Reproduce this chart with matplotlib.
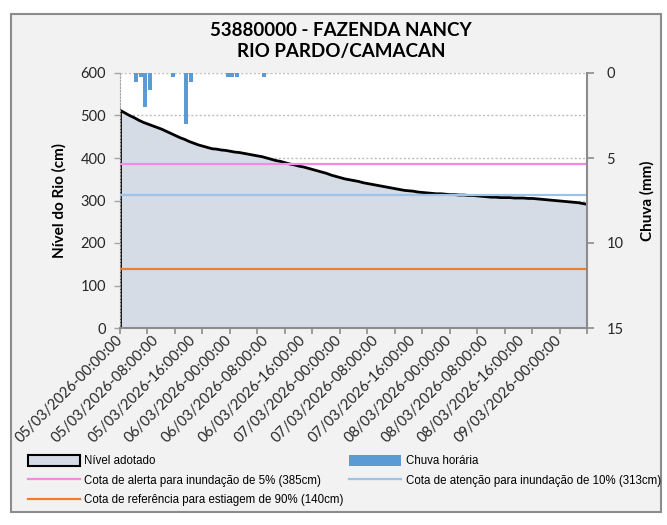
import matplotlib
matplotlib.use("Agg")
import matplotlib.pyplot as plt
from matplotlib.patches import Rectangle, Patch
from matplotlib.lines import Line2D
from matplotlib.font_manager import FontProperties

# ---------------- dados ----------------
# horas desde 05/03/2026 00:00
horas = list(range(103))
nivel = [513, 507, 501, 496, 490, 485, 481, 477, 473, 469,
         464, 459, 454, 449, 445, 440, 436, 432, 429, 426,
         423, 422, 420, 419, 417, 415, 414, 412, 410, 408,
         406, 404, 401, 398, 395, 393, 390, 387, 385, 382,
         380, 377, 374, 371, 368, 365, 361, 358, 355, 352,
         350, 348, 346, 343, 341, 339, 337, 335, 333, 331,
         329, 327, 325, 324, 323, 321, 320, 319, 318, 317,
         317, 316, 315, 315, 314, 314, 313, 313, 312, 311,
         310, 309, 309, 308, 308, 308, 307, 307, 307, 306,
         306, 305, 304, 303, 302, 301, 300, 299, 298, 297,
         296, 294, 292]

chuva_horas = [3, 4, 5, 6, 11, 14, 15, 23, 24, 25, 31]
chuva_mm = [0.5, 0.25, 2.0, 1.0, 0.25, 3.0, 0.5, 0.25, 0.25, 0.25, 0.25]

cota_alerta = 385
cota_atencao = 313
cota_estiagem = 140

tick_horas = [0, 8, 16, 24, 32, 40, 48, 56, 64, 72, 80, 88, 96]
tick_labels = ["05/03/2026-00:00:00", "05/03/2026-08:00:00", "05/03/2026-16:00:00",
               "06/03/2026-00:00:00", "06/03/2026-08:00:00", "06/03/2026-16:00:00",
               "07/03/2026-00:00:00", "07/03/2026-08:00:00", "07/03/2026-16:00:00",
               "08/03/2026-00:00:00", "08/03/2026-08:00:00", "08/03/2026-16:00:00",
               "09/03/2026-00:00:00"]

titulo = "53880000 - FAZENDA NANCY\nRIO PARDO/CAMACAN"

# ---------------- figura ----------------
plt.rcParams['font.family'] = ['Lato', 'DejaVu Sans']
W, H = 667, 525
fig = plt.figure(figsize=(W / 100, H / 100), dpi=100, facecolor='white')

# moldura do grafico
fig.patches.append(Rectangle((11 / W, 1 - 512 / H), 650 / W, 498 / H, transform=fig.transFigure,
                             facecolor='#f2f2f2', edgecolor='#8c8c8c', lw=1.5, zorder=-10))

ax = fig.add_axes([120 / W, 1 - 328 / H, 467 / W, 255 / H])
ax.set_facecolor('white')

ax.fill_between(horas, nivel, 0, facecolor='#d6dce5', edgecolor='black', lw=2, zorder=2)
ax.axhline(cota_alerta, color='#f08ce6', lw=1.6, zorder=3)
ax.axhline(cota_atencao, color='#9dc3e6', lw=1.6, zorder=3)
ax.axhline(cota_estiagem, color='#ed7d31', lw=1.6, zorder=3)

ax.set_xlim(0, 102)
ax.set_ylim(0, 600)
ax.set_yticks(range(0, 601, 100))
ax.yaxis.grid(True, color='#bfbfbf', ls=(0, (1.5, 1.5)), lw=1)
ax.set_axisbelow(True)

# marcas a cada 6 h, rotulos a cada 8 h
ax.xaxis.remove_overlapping_locs = False
ax.set_xticks(range(0, 103, 6))
ax.set_xticklabels([])
ax.set_xticks(tick_horas, minor=True)
ax.set_xticklabels(tick_labels, minor=True, rotation=45, ha='right', va='center',
                   rotation_mode='anchor', fontsize=10.5, color='#262626')
ax.tick_params(axis='x', which='major', length=4, color='#8c8c8c', width=1.2)
ax.tick_params(axis='x', which='minor', length=0, pad=7)
ax.tick_params(axis='y', length=4, color='#a6a6a6', width=1, labelsize=10.5,
               labelcolor='#262626', pad=6)

for s in ['top', 'right']:
    ax.spines[s].set_visible(False)
ax.spines['left'].set_color('#a6a6a6')
ax.spines['left'].set_linestyle((0, (1.5, 1.5)))
ax.spines['bottom'].set_color('#8c8c8c')
ax.spines['bottom'].set_linewidth(1.5)

ax.set_ylabel("Nível do Rio (cm)", fontsize=11, fontweight='bold', labelpad=10)

# chuva no eixo secundario, invertido
ax2 = ax.twinx()
ax2.bar([h + 0.5 for h in chuva_horas], chuva_mm, width=0.85, color='#5b9bd5', zorder=4)
ax2.set_ylim(15, 0)
ax2.set_yticks([0, 5, 10, 15])
ax2.tick_params(axis='y', length=5, color='#8c8c8c', width=1.2, labelsize=10.5,
                labelcolor='#262626', pad=9)
for s in ['top', 'left', 'bottom']:
    ax2.spines[s].set_visible(False)
ax2.spines['right'].set_color('#8c8c8c')
ax2.spines['right'].set_linewidth(1.5)
ax2.set_ylabel("Chuva (mm)", fontsize=11, fontweight='bold', labelpad=12)

fig.text(341 / W, 1 - 41 / H, titulo, ha='center', va='center', fontsize=13.5,
         fontweight='bold', linespacing=1.25, color='black')

# legenda
handles = [Patch(facecolor='#d6dce5', edgecolor='black', lw=1.5),
           Line2D([], [], color='#f08ce6', lw=1.6),
           Line2D([], [], color='#ed7d31', lw=1.6),
           Patch(facecolor='#5b9bd5', edgecolor='none'),
           Line2D([], [], color='#9dc3e6', lw=1.6)]
labels = ["Nível adotado",
          "Cota de alerta para inundação de 5% (385cm)",
          "Cota de referência para estiagem de 90% (140cm)",
          "Chuva horária",
          "Cota de atenção para inundação de 10% (313cm)"]
fp = FontProperties(family=['Liberation Sans', 'DejaVu Sans'], size=8.3)
fig.legend(handles, labels, ncol=2, loc='upper left', bbox_to_anchor=(22 / W, 1 - 449 / H),
           frameon=False, prop=fp, handlelength=4.5, handleheight=1.1, handletextpad=0.4,
           columnspacing=0.5, labelspacing=0.62, borderpad=0)

fig.savefig("out.png", dpi=100, facecolor=fig.get_facecolor())
